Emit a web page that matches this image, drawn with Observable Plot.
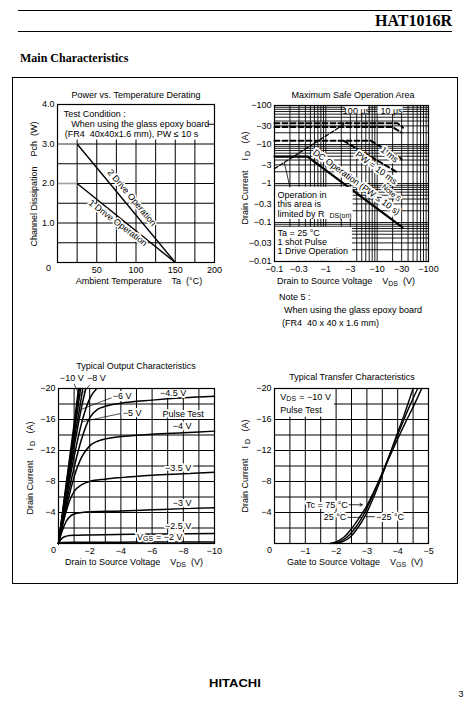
<!DOCTYPE html>
<html>
<head>
<meta charset="utf-8">
<script src="https://cdn.jsdelivr.net/npm/d3@7"></script>
<script src="https://cdn.jsdelivr.net/npm/@observablehq/plot@0.6"></script>
<style>
html,body{margin:0;padding:0;background:#fff;}
#page{position:relative;width:470px;height:707px;overflow:hidden;background:#fff;font-family:"Liberation Sans",Arial,Helvetica,sans-serif;color:#000;}
.a{position:absolute;white-space:pre;line-height:1;font-size:9px;}
.c{transform:translate(-50%,-50%);}
.l{transform:translate(0,-50%);}
.rt{transform:translate(-100%,-50%);}
.r{transform:translate(-50%,-50%) rotate(-90deg);}
.a sub{font-size:7px;vertical-align:-2px;line-height:0;}
.line{position:absolute;background:#000;}
</style>
</head>
<body>
<div id="page"></div>
<script>
// ================= DATA =================
// Power vs. Temperature Derating
const deratingTa = [0, 25, 150];
const pch2Drive = [3.0, 3.0, 0];
const pch1Drive = [2.0, 2.0, 0];
const taTicks = [50, 100, 150, 200];
const pchTicks = [1, 2, 3, 4];
const taGrid = [25, 50, 75, 100, 125, 150, 175];
const pchGrid = [0.5, 1, 1.5, 2, 2.5, 3, 3.5];

// Maximum Safe Operation Area (magnitudes; drawn with minus signs)
const soaVTicks = [0.1, 0.3, 1, 3, 10, 30, 100];
const soaITicks = [0.01, 0.03, 0.1, 0.3, 1, 3, 10, 30, 100];
const soaVGrid = [0.2,0.3,0.4,0.5,0.6,0.7,0.8,0.9,1,2,3,4,5,6,7,8,9,10,20,30,40,50,60,70,80,90];
const soaIGrid = [0.02,0.03,0.04,0.05,0.06,0.07,0.08,0.09,0.1,0.2,0.3,0.4,0.5,0.6,0.7,0.8,0.9,1,2,3,4,5,6,7,8,9,10,20,30,40,50,60,70,80,90];
const soaRdsV = [0.1, 2.6];        const soaRdsI = [2.4, 37];
const soa10usV = [0.1, 25, 32];    const soa10usI = [35, 35, 27];
const soa100usV = [0.1, 20, 30];   const soa100usI = [28, 28, 20];
const soa1msV = [0.1, 7.5, 30];    const soa1msI = [12.5, 12.5, 4.2];
const soa10msV = [2.2, 24.5];      const soa10msI = [12.5, 1.95];
const soaDcV = [0.1, 0.44, 31];    const soaDcI = [4.9, 4.9, 0.075];

// Typical Output Characteristics: [ -VDS (V), -ID (A) ]
const outVdsTicks = [2, 4, 6, 8, 10];
const outIdTicks = [4, 8, 12, 16, 20];
const outVdsGrid = [1, 2, 3, 4, 5, 6, 7, 8, 9];
const outIdGrid = [2, 4, 6, 8, 10, 12, 14, 16, 18];
const outVgs10 = [[0,0],[0.5,7.8],[1.0,15.4],[1.28,20]];
const outVgs9  = [[0,0],[0.5,7.5],[1.0,14.8],[1.34,20]];
const outVgs8  = [[0,0],[0.5,7.2],[1.0,14.1],[1.42,20]];
const outVgs7  = [[0,0],[0.5,6.8],[1.0,13.3],[1.5,19.3],[1.55,20]];
const outVgs6  = [[0,0],[0.5,6.4],[1.0,12.4],[1.5,17.8],[1.75,20]];
const outVgs5  = [[0,0],[0.5,5.8],[1.0,11.2],[1.5,15.7],[2.0,18.7],[2.45,20]];
const outVgs45 = [[0,0],[0.5,5.2],[1,9.8],[1.5,13.6],[2,16.2],[2.5,17.3],[3,17.7],[4,18.1],[6,18.5],[8,18.8],[10,19.0]];
const outVgs4  = [[0,0],[0.5,4.6],[1,8.6],[1.5,11.2],[2,12.6],[2.5,13.2],[3,13.5],[4,13.8],[6,14.1],[8,14.3],[10,14.5]];
const outVgs35 = [[0,0],[0.25,2.3],[0.5,4.2],[0.75,5.7],[1,6.7],[1.5,7.6],[2,8.0],[3,8.3],[4,8.5],[6,8.8],[8,9.0],[10,9.2]];
const outVgs3  = [[0,0],[0.25,1.7],[0.5,2.9],[0.75,3.5],[1,3.8],[1.5,4.0],[2,4.1],[4,4.2],[6,4.35],[8,4.5],[10,4.6]];
const outVgs25 = [[0,0],[0.15,0.5],[0.3,0.8],[0.5,0.95],[1,1.05],[2,1.1],[5,1.2],[10,1.3]];
const outVgs2  = [[0,0],[0.2,0.12],[1,0.15],[5,0.18],[10,0.2]];

// Typical Transfer Characteristics: [ -VGS (V), -ID (A) ]
const trVgsTicks = [1, 2, 3, 4, 5];
const trIdTicks = [4, 8, 12, 16, 20];
const trVgsGrid = [0.5, 1, 1.5, 2, 2.5, 3, 3.5, 4, 4.5];
const trIdGrid = [2, 4, 6, 8, 10, 12, 14, 16, 18];
const trTc75  = [[1.8,0],[2.0,0.2],[2.25,0.8],[2.5,1.9],[2.75,3.3],[3,4.9],[3.25,6.9],[3.5,9.1],[3.75,11.3],[4,13.5],[4.25,15.6],[4.5,17.6],[4.78,20]];
const trTc25  = [[1.9,0],[2.1,0.2],[2.35,0.8],[2.6,1.9],[2.85,3.4],[3.1,5.4],[3.35,7.6],[3.6,10.1],[3.85,12.6],[4.1,15.0],[4.35,17.4],[4.65,20]];
const trTcM25 = [[2.0,0],[2.2,0.2],[2.45,0.8],[2.7,2.0],[2.95,3.6],[3.2,5.8],[3.45,8.3],[3.7,11.0],[3.95,13.8],[4.2,16.5],[4.5,20]];

// ================= PAGE =================
const page = document.getElementById("page");
const neg = d => d === 0 ? "0" : "\u2212" + d;
const FONT = '"Liberation Sans", Arial, Helvetica, sans-serif';
const baseStyle = {fontFamily: FONT, fontSize: "9px", color: "black", background: "transparent", overflow: "visible"};
const halo = {stroke: "white", strokeWidth: 4, fill: "black"};
const lnk = {x1: "x1", y1: "y1", x2: "x2", y2: "y2"};
const P = d => d[0], Q = d => d[1];

function place(svg, left, top) {
  svg.style.position = "absolute";
  svg.style.left = left + "px";
  svg.style.top = top + "px";
  svg.style.maxWidth = "none";
  svg.style.background = "transparent";
  page.appendChild(svg);
}
function txt(html, x, y, cls, extra) {
  const d = document.createElement("div");
  d.className = "a " + cls;
  d.style.left = x + "px";
  d.style.top = y + "px";
  d.innerHTML = html;
  if (extra) Object.assign(d.style, extra);
  page.appendChild(d);
}
function rule(x, y, w, h) {
  const d = document.createElement("div");
  d.className = "line";
  Object.assign(d.style, {left: x + "px", top: y + "px", width: w + "px", height: h + "px"});
  page.appendChild(d);
}

// ---------- Chart 1: derating ----------
const segs = (xs, ys) => xs.slice(1).map((x, i) => ({x1: xs[i], y1: ys[i], x2: x, y2: ys[i + 1], flat: ys[i] === ys[i + 1]}));
const derSegs = [...segs(deratingTa, pch2Drive), ...segs(deratingTa, pch1Drive)];
place(Plot.plot({
  width: 225, height: 215,
  marginLeft: 45, marginRight: 23, marginTop: 24, marginBottom: 33,
  style: baseStyle,
  x: {domain: [0, 200], ticks: taTicks, tickSize: 0, tickPadding: 4, label: null},
  y: {domain: [0, 4], ticks: pchTicks, tickSize: 0, tickPadding: 3, tickFormat: d => d.toFixed(1), label: null},
  marks: [
    Plot.ruleX(taGrid, {stroke: "black", strokeWidth: 1}),
    Plot.ruleY(pchGrid, {stroke: "black", strokeWidth: 1}),
    Plot.rect([{x1: 0.8, x2: 192, y1: 3.1, y2: 3.98}], {x1: "x1", x2: "x2", y1: "y1", y2: "y2", fill: "white"}),
    Plot.link(derSegs.filter(d => d.flat), {...lnk, stroke: "#a0a0a0", strokeWidth: 1.6}),
    Plot.link(derSegs.filter(d => !d.flat), {...lnk, stroke: "black", strokeWidth: 1.4}),
    Plot.text(["Test Condition :"], {x: 8, y: 3.76, textAnchor: "start"}),
    Plot.text(["When using the glass epoxy board"], {x: 17.4, y: 3.51, textAnchor: "start"}),
    Plot.text(["(FR4  40x40x1.6 mm), PW \u2264 10 s"], {x: 9.3, y: 3.24, textAnchor: "start"}),
    Plot.text(["2 Drive Operation"], {x: 94.7, y: 1.64, rotate: 50, ...halo, strokeWidth: 3}),
    Plot.text(["1 Drive Operation"], {x: 77, y: 1.0, rotate: 37, ...halo, strokeWidth: 3}),
    Plot.text(["0"], {x: 0, y: 0, dx: -9, dy: 6}),
    Plot.frame({stroke: "black", strokeWidth: 1.2})
  ]
}), 12, 80);

// ---------- Chart 2: SOA ----------
const soaLine = (v, i) => d3.zip(v, i);
place(Plot.plot({
  width: 215, height: 215,
  marginLeft: 37, marginRight: 24, marginTop: 25, marginBottom: 34,
  style: baseStyle,
  x: {type: "log", domain: [0.1, 100], ticks: soaVTicks, tickFormat: neg, tickSize: 0, tickPadding: 4, label: null},
  y: {type: "log", domain: [0.01, 100], axis: null},
  marks: [
    Plot.ruleX(soaVGrid, {stroke: "black", strokeWidth: 0.9}),
    Plot.ruleY(soaIGrid, {stroke: "black", strokeWidth: 0.9}),
    Plot.text(soaITicks, {y: d => d, text: neg, frameAnchor: "left", dx: -3, textAnchor: "end"}),
    Plot.line(soaLine(soa10usV, soa10usI), {x: P, y: Q, stroke: "black", strokeWidth: 2, strokeDasharray: "5,3"}),
    Plot.line(soaLine(soa100usV, soa100usI), {x: P, y: Q, stroke: "black", strokeWidth: 2, strokeDasharray: "5,3"}),
    Plot.line(soaLine(soa1msV, soa1msI), {x: P, y: Q, stroke: "black", strokeWidth: 2, strokeDasharray: "5,3"}),
    Plot.line(soaLine(soa10msV, soa10msI), {x: P, y: Q, stroke: "black", strokeWidth: 2, strokeDasharray: "5,3"}),
    Plot.line(soaLine(soaRdsV, soaRdsI), {x: P, y: Q, stroke: "black", strokeWidth: 1.3, strokeDasharray: "4,2"}),
    Plot.line(soaLine(soaDcV, soaDcI), {x: P, y: Q, stroke: "black", strokeWidth: 2.2}),
    Plot.rect([{x1: 2.4, x2: 6.8, y1: 60, y2: 100}, {x1: 10.4, x2: 32, y1: 60, y2: 100},
               {x1: 0.1, x2: 3.4, y1: 0.12, y2: 0.8}, {x1: 0.1, x2: 3.3, y1: 0.0102, y2: 0.075}],
              {x1: "x1", x2: "x2", y1: "y1", y2: "y2", fill: "white"}),
    Plot.text(["100 \u00b5s"], {x: 3.95, y: 70}),
    Plot.text(["10 \u00b5s"], {x: 19, y: 70}),
    Plot.text(["1 ms"], {x: 17.4, y: 5.5, rotate: 38, ...halo}),
    Plot.text(["PW = 10 ms"], {x: 9.6, y: 2.5, rotate: 36, ...halo}),
    Plot.text(["DC Operation (PW \u2264 10 s)"], {x: 3.95, y: 1.08, rotate: 36, ...halo}),
    Plot.text(["Note 5"], {x: 18.8, y: 0.58, rotate: 40, fontSize: 7.5, ...halo, strokeWidth: 3}),
    Plot.link([{x1: 0.2, y1: 0.8, x2: 0.155, y2: 3.5}], {...lnk, stroke: "black", strokeWidth: 0.8}),
    Plot.text(["Operation in"], {x: 0.1, y: 0.49, dx: 3, textAnchor: "start"}),
    Plot.text(["this area is"], {x: 0.1, y: 0.29, dx: 3, textAnchor: "start"}),
    Plot.text(["limited by R"], {x: 0.1, y: 0.167, dx: 3, textAnchor: "start"}),
    Plot.text(["DS(on)"], {x: 0.1, y: 0.167, dx: 55, dy: 2, fontSize: 7, textAnchor: "start"}),
    Plot.text(["Ta = 25 \u00b0C"], {x: 0.1, y: 0.0532, dx: 3, textAnchor: "start"}),
    Plot.text(["1 shot Pulse"], {x: 0.1, y: 0.0313, dx: 3, textAnchor: "start"}),
    Plot.text(["1 Drive Operation"], {x: 0.1, y: 0.018, dx: 3, textAnchor: "start"}),
    Plot.frame({stroke: "black", strokeWidth: 1.2})
  ]
}), 237, 80);

// ---------- Chart 3: Output ----------
const outCurves = [outVgs10, outVgs9, outVgs8, outVgs7, outVgs6, outVgs5, outVgs45, outVgs4, outVgs35, outVgs3, outVgs25, outVgs2];
place(Plot.plot({
  width: 225, height: 215,
  marginLeft: 46, marginRight: 23, marginTop: 28, marginBottom: 32,
  style: baseStyle,
  x: {domain: [0, 10], ticks: outVdsTicks, tickFormat: neg, tickSize: 0, tickPadding: 4, label: null},
  y: {domain: [0, 20], ticks: outIdTicks, tickFormat: neg, tickSize: 0, tickPadding: 3, label: null},
  marks: [
    Plot.ruleX(outVdsGrid, {stroke: "black", strokeWidth: 1}),
    Plot.ruleY(outIdGrid, {stroke: "black", strokeWidth: 1}),
    ...outCurves.map(c => Plot.line(c, {x: P, y: Q, stroke: "black", strokeWidth: 1.5, curve: "monotone-x"})),
    Plot.link([{x1: 1.0, y1: 20.6, x2: 1.25, y2: 19.5}, {x1: 2.03, y1: 20.5, x2: 1.35, y2: 19.0},
               {x1: 3.45, y1: 18.85, x2: 1.45, y2: 17.3}, {x1: 4.05, y1: 16.8, x2: 1.5, y2: 15.7}],
              {...lnk, stroke: "black", strokeWidth: 0.7}),
    Plot.text(["\u221210 V"], {x: 0.85, y: 21.4}),
    Plot.text(["\u22128 V"], {x: 2.42, y: 21.3}),
    Plot.text(["\u22126 V"], {x: 4.08, y: 19.0, ...halo}),
    Plot.text(["\u22125 V"], {x: 4.72, y: 16.84, ...halo}),
    Plot.text(["\u22124.5 V"], {x: 7.35, y: 19.4, ...halo}),
    Plot.text(["Pulse Test"], {x: 7.99, y: 16.67, ...halo}),
    Plot.text(["\u22124 V"], {x: 7.93, y: 15.1, ...halo}),
    Plot.text(["\u22123.5 V"], {x: 7.67, y: 9.68, ...halo}),
    Plot.text(["\u22123 V"], {x: 7.93, y: 5.27, ...halo}),
    Plot.text(["\u22122.5 V"], {x: 7.67, y: 2.29, ...halo}),
    Plot.text(["V"], {x: 5.03, y: 0.85, textAnchor: "start", ...halo}),
    Plot.text(["GS"], {x: 5.03, y: 0.85, dx: 6, dy: 2, fontSize: 7, textAnchor: "start", ...halo, strokeWidth: 3}),
    Plot.text(["= \u22122 V"], {x: 5.03, y: 0.85, dx: 19, textAnchor: "start", ...halo}),
    Plot.text(["0"], {x: 0, y: 0, dx: -5, dy: 7}),
    Plot.frame({stroke: "black", strokeWidth: 1.2})
  ]
}), 12, 360);

// ---------- Chart 4: Transfer ----------
place(Plot.plot({
  width: 215, height: 215,
  marginLeft: 37, marginRight: 24, marginTop: 28, marginBottom: 32,
  style: baseStyle,
  x: {domain: [0, 5], ticks: trVgsTicks, tickFormat: neg, tickSize: 0, tickPadding: 4, label: null},
  y: {domain: [0, 20], ticks: trIdTicks, tickFormat: neg, tickSize: 0, tickPadding: 3, label: null},
  marks: [
    Plot.ruleX(trVgsGrid, {stroke: "black", strokeWidth: 1}),
    Plot.ruleY(trIdGrid, {stroke: "black", strokeWidth: 1}),
    Plot.rect([{x1: 0.03, x2: 1.95, y1: 16.3, y2: 19.9}], {x1: "x1", x2: "x2", y1: "y1", y2: "y2", fill: "white"}),
    ...[trTc75, trTc25, trTcM25].map(c => Plot.line(c, {x: P, y: Q, stroke: "black", strokeWidth: 1.4, curve: "monotone-x"})),
    Plot.text(["V"], {x: 0.19, y: 18.9, textAnchor: "start"}),
    Plot.text(["DS"], {x: 0.19, y: 18.9, dx: 6, dy: 2, fontSize: 7, textAnchor: "start"}),
    Plot.text(["= \u221210 V"], {x: 0.19, y: 18.9, dx: 19, textAnchor: "start"}),
    Plot.text(["Pulse Test"], {x: 0.19, y: 17.2, textAnchor: "start"}),
    Plot.text(["Tc = 75 \u00b0C"], {x: 2.38, y: 5.0, textAnchor: "end", ...halo}),
    Plot.arrow([{x1: 2.42, y1: 5.0, x2: 2.85, y2: 5.0}], {...lnk, stroke: "black", strokeWidth: 0.8, headLength: 5}),
    Plot.text(["25 \u00b0C"], {x: 2.33, y: 3.37, textAnchor: "end", ...halo}),
    Plot.link([{x1: 2.37, y1: 3.37, x2: 2.86, y2: 3.37}, {x1: 2.96, y1: 3.46, x2: 3.26, y2: 3.46}], {...lnk, stroke: "black", strokeWidth: 0.8}),
    Plot.text(["\u221225 \u00b0C"], {x: 3.3, y: 3.46, textAnchor: "start", ...halo}),
    Plot.text(["0"], {x: 0, y: 0, dx: -5, dy: 7}),
    Plot.frame({stroke: "black", strokeWidth: 1.2})
  ]
}), 237, 360);

// ---------- page furniture & labels ----------
rule(18, 10, 434, 1);
rule(18, 31, 434, 1);
txt("HAT1016R", 452, 21, "rt", {fontFamily: '"Liberation Serif", "Times New Roman", serif', fontWeight: "bold", fontSize: "16px"});
txt("Main Characteristics", 20, 58, "l", {fontFamily: '"Liberation Serif", "Times New Roman", serif', fontWeight: "bold", fontSize: "12px"});
const box = document.createElement("div");
Object.assign(box.style, {position: "absolute", left: "12px", top: "77px", width: "444px", height: "505px", border: "1px solid #000"});
page.appendChild(box);

txt("Power vs. Temperature Derating", 136, 95, "c");
txt("Ambient Temperature    Ta  (\u00b0C)", 139, 281, "c");
txt("Channel Dissipation    Pch  (W)", 34, 184, "r");

txt("Maximum Safe Operation Area", 353, 95, "c");
txt("Drain to Source Voltage    V<sub>DS</sub>  (V)", 346, 281, "c");
txt("Drain Current    I<sub> D</sub>   (A)", 245, 178, "r");
txt("Note 5 :", 279, 297, "l");
txt("When using the glass epoxy board", 284, 310, "l");
txt("(FR4  40 x 40 x 1.6 mm)", 282, 323, "l");

txt("Typical Output Characteristics", 136, 366, "c");
txt("Drain to Source Voltage    V<sub>DS</sub>  (V)", 134, 562, "c");
txt("Drain Current    I<sub> D</sub>   (A)", 30, 468, "r");

txt("Typical Transfer Characteristics", 352, 377, "c");
txt("Gate to Source Voltage    V<sub>GS</sub>  (V)", 355, 562, "c");
txt("Drain Current    I<sub> D</sub>   (A)", 245, 466, "r");

txt("HITACHI", 235, 684, "c", {fontWeight: "bold", fontSize: "10px", transform: "translate(-50%,-50%) scaleX(1.3)"});
txt("3", 461, 694, "c", {fontSize: "9px"});
</script>
</body>
</html>
